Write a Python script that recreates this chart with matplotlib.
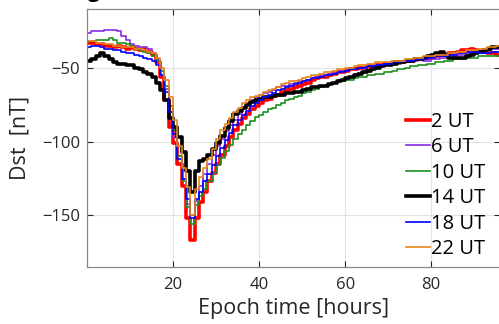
import numpy as np
import matplotlib
matplotlib.use('Agg')
from matplotlib import pyplot as plt

plt.rcParams['font.family'] = ['Open Sans', 'DejaVu Sans']

# epoch hours 0..96
hours = np.arange(0, 97)

dst_2ut = [-33, -33, -34, -34, -35, -35, -36, -35, -36, -37,
           -36, -37, -38, -37, -39, -41, -46, -56, -72, -90,
           -101, -115, -130, -152, -167, -152, -141, -134, -127, -121,
           -115, -109, -103, -97, -92, -88, -84, -81, -78, -76,
           -74, -72, -71, -69, -68, -66, -65, -64, -63, -62,
           -61, -60, -58, -57, -56, -56, -55, -54, -53, -53,
           -52, -51, -51, -50, -50, -49, -49, -48, -48, -47,
           -47, -46, -46, -46, -45, -45, -44, -44, -43, -43,
           -42, -42, -41, -41, -40, -40, -39, -38, -38, -37,
           -38, -39, -39, -40, -40, -41, -41]
dst_6ut = [-26, -25, -25, -25, -24, -24, -24, -25, -28, -31,
           -34, -35, -36, -36, -37, -40, -44, -52, -64, -80,
           -97, -110, -125, -142, -150, -140, -130, -122, -115, -109,
           -103, -98, -93, -89, -85, -81, -77, -74, -72, -70,
           -68, -67, -66, -65, -63, -62, -62, -61, -60, -59,
           -59, -58, -57, -56, -55, -55, -54, -53, -53, -52,
           -52, -51, -51, -50, -50, -49, -49, -48, -48, -48,
           -47, -47, -47, -46, -46, -45, -45, -44, -45, -45,
           -44, -44, -43, -43, -42, -42, -41, -41, -40, -40,
           -39, -39, -38, -38, -37, -37, -36]
dst_10ut = [-32, -32, -31, -31, -31, -30, -31, -33, -33, -34,
            -35, -37, -38, -39, -40, -42, -45, -52, -62, -76,
            -92, -110, -127, -144, -156, -143, -137, -132, -127, -121,
            -116, -111, -106, -102, -98, -95, -92, -89, -86, -83,
            -82, -80, -78, -77, -75, -74, -72, -71, -70, -69,
            -67, -66, -65, -64, -63, -62, -61, -60, -59, -59,
            -58, -58, -57, -56, -56, -55, -55, -54, -54, -53,
            -53, -52, -51, -51, -50, -49, -49, -48, -48, -47,
            -47, -46, -46, -45, -45, -44, -44, -44, -43, -43,
            -43, -42, -42, -42, -42, -42, -42]
dst_14ut = [-45, -44, -42, -40, -42, -44, -46, -47, -47, -48,
            -48, -50, -51, -53, -54, -56, -60, -65, -72, -84,
            -90, -97, -107, -120, -134, -120, -113, -112, -109, -105,
            -101, -96, -91, -86, -81, -79, -77, -75, -73, -72,
            -71, -70, -70, -69, -68, -68, -67, -67, -66, -66,
            -65, -64, -63, -63, -62, -62, -61, -60, -59, -58,
            -57, -56, -55, -54, -53, -52, -51, -50, -49, -48,
            -48, -47, -46, -46, -45, -45, -44, -44, -43, -42,
            -41, -40, -39, -41, -43, -43, -43, -43, -42, -41,
            -40, -39, -38, -37, -36, -36, -36]
dst_18ut = [-36, -35, -35, -36, -37, -37, -38, -38, -39, -40,
            -40, -41, -42, -43, -44, -45, -48, -55, -66, -80,
            -95, -112, -125, -139, -152, -139, -134, -127, -122, -116,
            -110, -104, -99, -94, -89, -85, -82, -79, -76, -74,
            -72, -70, -68, -67, -65, -64, -63, -62, -61, -60,
            -59, -58, -57, -57, -56, -55, -55, -54, -53, -53,
            -52, -51, -51, -50, -50, -49, -49, -48, -48, -47,
            -47, -46, -46, -45, -45, -45, -44, -44, -44, -43,
            -43, -42, -42, -42, -41, -41, -40, -40, -39, -39,
            -39, -40, -40, -40, -39, -39, -39]
dst_22ut = [-32, -32, -33, -33, -34, -34, -35, -35, -36, -36,
            -36, -37, -37, -38, -39, -40, -43, -50, -58, -70,
            -85, -103, -118, -131, -150, -132, -124, -118, -112, -105,
            -98, -92, -88, -84, -80, -77, -74, -72, -70, -69,
            -68, -66, -65, -64, -63, -61, -60, -59, -59, -58,
            -57, -56, -55, -55, -54, -53, -53, -52, -51, -51,
            -50, -50, -49, -48, -48, -47, -47, -46, -46, -46,
            -46, -45, -45, -45, -44, -44, -43, -43, -42, -42,
            -42, -41, -41, -41, -40, -40, -39, -39, -38, -38,
            -38, -37, -37, -36, -36, -35, -35]

labels = ['2 UT', '6 UT', '10 UT', '14 UT', '18 UT', '22 UT']
series = [dst_2ut, dst_6ut, dst_10ut, dst_14ut, dst_18ut, dst_22ut]
colors = ['#ff0000', '#8a2be2', '#1f8f1f', '#000000', '#0000ff', '#e8861a']
widths = [2.6, 1.2, 1.2, 2.6, 1.2, 1.2]

fig = plt.figure(figsize=(4.99, 3.24), dpi=100)
ax = fig.add_axes([87/499, 57/324, 413/499, 258/324])

for y, lab, c, lw in zip(series, labels, colors, widths):
    ax.plot(hours, y, drawstyle='steps-post', color=c, lw=lw, label=lab)

ax.set_xlim(0, 96)
ax.set_ylim(-185, -10)
ax.set_xticks([20, 40, 60, 80])
ax.set_yticks([-150, -100, -50])
ax.grid(True, color='#e3e3e3', lw=0.8)
ax.set_axisbelow(True)
ax.tick_params(direction='in', top=True, right=True, length=4,
               labelsize=12, colors='#262626', width=0.8)
ax.tick_params(axis='x', pad=7)
ax.tick_params(axis='y', pad=5)
for s in ax.spines.values():
    s.set_color('#888888')
    s.set_linewidth(0.9)

ax.set_xlabel('Epoch time [hours]', fontsize=15.5, color='#262626', labelpad=4)
ax.set_ylabel('Dst  [nT]', fontsize=15.5, color='#262626', labelpad=8)

leg = ax.legend(loc='lower right', bbox_to_anchor=(0.987, -0.005), frameon=False,
                fontsize=14.5, handlelength=1.2, handletextpad=0.05,
                labelspacing=0.27, borderaxespad=0.05)

fig.text(88/499, 1 + 3/324, 'g', fontsize=15, fontweight='bold',
         va='baseline', ha='left')

fig.savefig('out.png', dpi=100)
